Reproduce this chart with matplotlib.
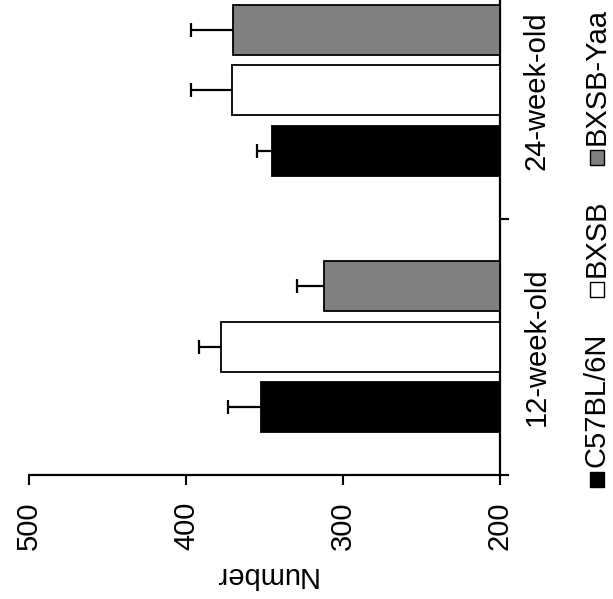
import numpy as np
import matplotlib
matplotlib.use("Agg")
import matplotlib.pyplot as plt
from matplotlib.patches import Rectangle

plt.rcParams['font.family'] = ['Liberation Sans', 'DejaVu Sans']

# values (bars start at 200)
ages = ['12-week-old', '24-week-old']
strains = ['C57BL/6N', 'BXSB', 'BXSB-Yaa']
c57_mean = [352, 345]
c57_err = [21, 10]
bxsb_mean = [378, 371]
bxsb_err = [14, 26]
yaa_mean = [312, 370]
yaa_err = [17, 27]
value_ticks = [500, 400, 300, 200]

means = [c57_mean, bxsb_mean, yaa_mean]
errs = [c57_err, bxsb_err, yaa_err]
colors = ['#000000', '#ffffff', '#808080']
offsets = [-0.236, 0.0, 0.236]
barHeight = 0.195
base = 200

W, H = 613, 599
fig = plt.figure(figsize=(W / 100, H / 100), dpi=100)
# the whole chart is turned a quarter turn, so the value axis runs along the bottom
ax = fig.add_axes([29 / W, 124 / H, 471 / W, 513 / H])

pos = np.arange(len(ages))
for m, e, c, off in zip(means, errs, colors, offsets):
  m = np.array(m)
  e = np.array(e)
  ax.barh(pos + off, m - base, left=base, height=barHeight, color=c,
          edgecolor='black', linewidth=1.3, zorder=3)
  ax.hlines(pos + off, m, m + e, color='black', linewidth=1.6, zorder=2)
  ax.plot(m + e, pos + off, ls='none', marker='|', markersize=10,
          markeredgewidth=1.6, color='black', zorder=2)

ax.set_xlim(500, 200)
ax.set_ylim(-0.5, 1.5)
ax.set_xticks(value_ticks)
ax.tick_params(axis='x', length=7, width=1.5, pad=12, labelsize=21, labelrotation=90)
ax.set_xlabel('Number', rotation=180, fontsize=21, labelpad=8)

ax.yaxis.tick_right()
ax.set_yticks(pos, ages)
ax.set_yticks([-0.5, 0.5, 1.5], minor=True)
ax.tick_params(axis='y', which='major', length=0, pad=16.5, labelsize=21, labelrotation=90)
ax.tick_params(axis='y', which='minor', length=6.5, width=1.5, direction='out')
for lbl in ax.get_yticklabels():
  lbl.set_va('center')

ax.spines['left'].set_visible(False)
ax.spines['top'].set_visible(False)
ax.spines['right'].set_linewidth(1.6)
ax.spines['bottom'].set_linewidth(1.6)

# legend, drawn by hand since it is rotated too
legendBottoms = [487, 297, 165]
for label, c, yb in zip(strains, colors, legendBottoms):
  fig.add_artist(Rectangle((590 / W, (H - yb) / H), 14 / W, 15 / H, transform=fig.transFigure,
                           facecolor=c, edgecolor='black', linewidth=1))
  fig.text(605 / W, (H - yb + 20) / H, label, rotation=90, rotation_mode='anchor',
           ha='left', va='baseline', fontsize=21)

fig.savefig('out.png', dpi=100, facecolor='white')
